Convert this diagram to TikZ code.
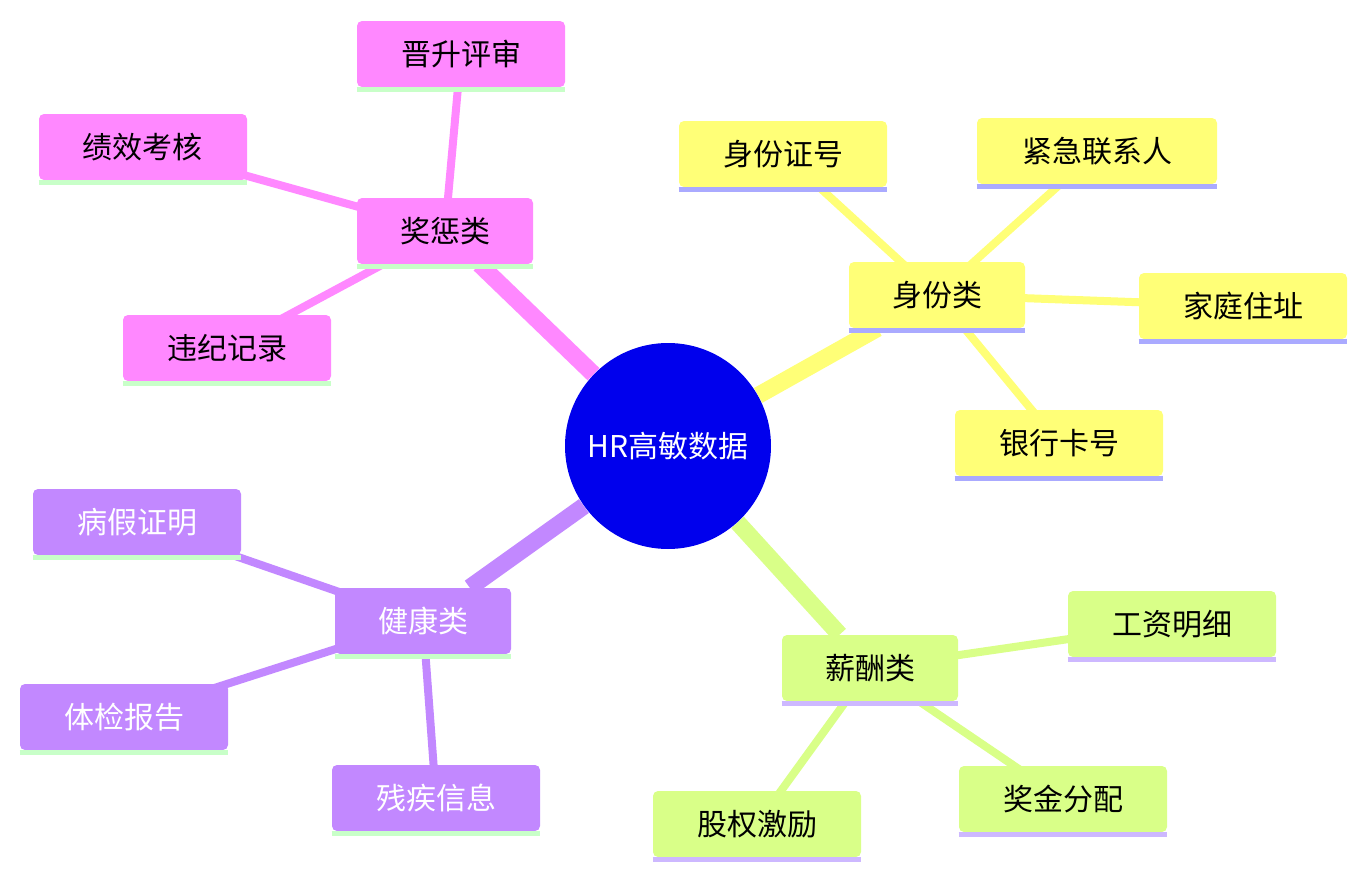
\documentclass[tikz,border=0pt]{standalone}
\usepackage{fontspec}
\setmainfont{Noto Sans CJK SC}
\usetikzlibrary{backgrounds}

\definecolor{pinkc}{HTML}{FF88FF}
\definecolor{yellowc}{HTML}{FFFF77}
\definecolor{purplec}{HTML}{C288FF}
\definecolor{greenc}{HTML}{D9FF88}
\definecolor{lineg}{HTML}{C8FFC8}
\definecolor{linel}{HTML}{AAAAFF}
\definecolor{linep}{HTML}{CDB8FF}

\tikzset{
  box/.style={rounded corners=2.5pt, minimum height=33pt, font=\fontsize{15pt}{18pt}\selectfont, inner sep=0pt},
  cat/.style={box, minimum width=88pt},
  leaf/.style={box, minimum width=104pt},
  trunk/.style={line width=8.5pt},
  twig/.style={line width=4pt},
}

\newcommand{\boxbase}[2]{\draw[#2, line width=2.5pt] ([yshift=-1.2pt]#1.south west) -- ([yshift=-1.2pt]#1.south east);}

\begin{document}
\begin{tikzpicture}[x=0.5pt, y=-0.5pt]

    \useasboundingbox (0,0) rectangle (1367,878);

    % Root
    \node[circle, fill=blue!93!black, text=white, minimum size=103pt, inner sep=0pt,
          font=\fontsize{15pt}{18pt}\selectfont] (root) at (668,446) {HR高敏数据};

    % Rewards and penalties
    \node[cat, fill=pinkc] (reward) at (445,231) {奖惩类};
    \node[leaf, fill=pinkc] (promo) at (461,54) {晋升评审};
    \node[leaf, fill=pinkc] (perf) at (143,147) {绩效考核};
    \node[leaf, fill=pinkc] (disc) at (227,348) {违纪记录};

    % Identity
    \node[cat, fill=yellowc] (ident) at (937,295) {身份类};
    \node[leaf, fill=yellowc] (idno) at (783,154) {身份证号};
    \node[leaf, fill=yellowc, minimum width=120pt] (emerg) at (1097,151) {紧急联系人};
    \node[leaf, fill=yellowc] (addr) at (1243,306) {家庭住址};
    \node[leaf, fill=yellowc] (bank) at (1059,443) {银行卡号};

    % Health
    \node[cat, fill=purplec, text=white] (health) at (423,621) {健康类};
    \node[leaf, fill=purplec, text=white] (sick) at (137,522) {病假证明};
    \node[leaf, fill=purplec, text=white] (exam) at (124,717) {体检报告};
    \node[leaf, fill=purplec, text=white] (disab) at (436,798) {残疾信息};

    % Salary
    \node[cat, fill=greenc] (pay) at (870,668) {薪酬类};
    \node[leaf, fill=greenc] (wage) at (1172,624) {工资明细};
    \node[leaf, fill=greenc] (bonus) at (1063,799) {奖金分配};
    \node[leaf, fill=greenc] (equity) at (757,824) {股权激励};

    \foreach \n in {reward,promo,perf,disc,health,sick,exam,disab} {\boxbase{\n}{lineg}}
    \foreach \n in {ident,idno,emerg,addr,bank} {\boxbase{\n}{linel}}
    \foreach \n in {pay,wage,bonus,equity} {\boxbase{\n}{linep}}

    \begin{scope}[on background layer]
      \draw[trunk, pinkc] (root) -- (reward);
      \draw[trunk, yellowc] (root) -- (ident);
      \draw[trunk, purplec] (root) -- (health);
      \draw[trunk, greenc] (root) -- (pay);
      \draw[twig, pinkc] (reward.center) -- (promo.center);
      \draw[twig, pinkc] (reward.center) -- (perf.center);
      \draw[twig, pinkc] (reward.center) -- (disc.center);
      \draw[twig, yellowc] (ident.center) -- (idno.center);
      \draw[twig, yellowc] (ident.center) -- (emerg.center);
      \draw[twig, yellowc] (ident.center) -- (addr.center);
      \draw[twig, yellowc] (ident.center) -- (bank.center);
      \draw[twig, purplec] (health.center) -- (sick.center);
      \draw[twig, purplec] (health.center) -- (exam.center);
      \draw[twig, purplec] (health.center) -- (disab.center);
      \draw[twig, greenc] (pay.center) -- (wage.center);
      \draw[twig, greenc] (pay.center) -- (bonus.center);
      \draw[twig, greenc] (pay.center) -- (equity.center);
    \end{scope}

\end{tikzpicture}
\end{document}
